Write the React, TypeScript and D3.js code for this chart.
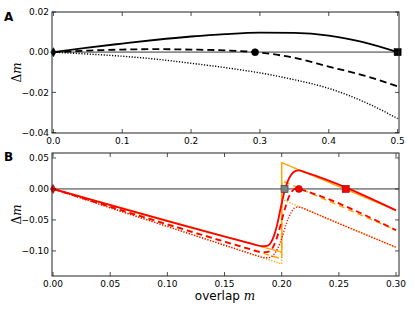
import { useEffect, useRef } from 'react';
import * as d3 from 'd3';

// panel A
const xA = [0, 0.05, 0.1, 0.15, 0.2, 0.25, 0.3, 0.35, 0.4, 0.45, 0.5];
const solidA = [0, 0.0023, 0.0043, 0.0062, 0.0078, 0.009, 0.0097, 0.0096, 0.0083, 0.005, 0];
const dashedA = [0, 0.0008, 0.0013, 0.0015, 0.0013, 0.0009, -0.0002, -0.0028, -0.0072, -0.0115, -0.017];
const dottedA = [0, -0.0009, -0.002, -0.0035, -0.0055, -0.0077, -0.0103, -0.0137, -0.018, -0.0245, -0.033];
const fixedA = [0, 0.293, 0.5];

// panel B
const redSolidX = [0, 0.17, 0.178, 0.183, 0.187, 0.19, 0.193, 0.196, 0.199, 0.202, 0.205, 0.208, 0.211, 0.215, 0.22, 0.3];
const redSolidY = [0, -0.0867, -0.0905, -0.0925, -0.092, -0.088, -0.077, -0.058, -0.032, -0.007, 0.011, 0.022, 0.028, 0.03, 0.0272, -0.0345];
const redDashedX = [0, 0.17, 0.178, 0.184, 0.188, 0.191, 0.194, 0.197, 0.2, 0.203, 0.206, 0.209, 0.212, 0.215, 0.22, 0.3];
const redDashedY = [0, -0.096, -0.1003, -0.1022, -0.1015, -0.098, -0.088, -0.072, -0.051, -0.031, -0.014, -0.004, 0.0005, 0, -0.0028, -0.0666];
const redDottedX = [0, 0.17, 0.178, 0.184, 0.188, 0.192, 0.196, 0.2, 0.204, 0.208, 0.211, 0.214, 0.218, 0.222, 0.3];
const redDottedY = [0, -0.1029, -0.1077, -0.1105, -0.111, -0.108, -0.098, -0.08, -0.056, -0.039, -0.031, -0.0293, -0.0305, -0.0337, -0.0941];
const orangeX = [0, 0.2, 0.2, 0.3];
const orangeSolidY = [0, -0.102, 0.0424, -0.0346];
const orangeDashedY = [0, -0.113, 0.0134, -0.0666];
const orangeDottedY = [0, -0.121, -0.0167, -0.0941];
const fixedB = [0, 0.2025, 0.215, 0.256];

const ticksAx = [0, 0.1, 0.2, 0.3, 0.4, 0.5];
const ticksAy = [-0.04, -0.02, 0, 0.02];
const ticksBx = [0, 0.05, 0.1, 0.15, 0.2, 0.25, 0.3];
const ticksBy = [-0.1, -0.05, 0, 0.05];

const W = 415;
const H = 312;
const FONT = 'DejaVu Sans';
const left = 52;
const right = 399;

type Sel = d3.Selection<SVGGElement, unknown, null, undefined>;

function frame(g: Sel, x: d3.ScaleLinear<number, number>, y: d3.ScaleLinear<number, number>, tx: number[], ty: number[], dx: number) {
  const [x0, x1] = x.range();
  const [y0, y1] = y.range(); // y0 bottom
  const fmt = (v: number, d: number) => v.toFixed(d).replace('-', '\u2212');
  const tk = g.append('g').attr('stroke', '#222').attr('stroke-width', 0.8);
  tx.forEach((v) => {
    tk.append('line').attr('x1', x(v)).attr('x2', x(v)).attr('y1', y0).attr('y2', y0 - 4);
    tk.append('line').attr('x1', x(v)).attr('x2', x(v)).attr('y1', y1).attr('y2', y1 + 4);
    g.append('text').attr('x', x(v)).attr('y', y0 + 10.5).attr('text-anchor', 'middle')
      .style('font-family', FONT).style('font-size', '9px').text(fmt(v, dx));
  });
  ty.forEach((v) => {
    tk.append('line').attr('x1', x0).attr('x2', x0 + 4).attr('y1', y(v)).attr('y2', y(v));
    tk.append('line').attr('x1', x1).attr('x2', x1 - 4).attr('y1', y(v)).attr('y2', y(v));
    g.append('text').attr('x', x0 - 3).attr('y', y(v) + 3.2).attr('text-anchor', 'end')
      .style('font-family', FONT).style('font-size', '9px').text(fmt(v, 2));
  });
  g.append('rect').attr('x', x0).attr('y', y1).attr('width', x1 - x0).attr('height', y0 - y1)
    .attr('fill', 'none').attr('stroke', '#222').attr('stroke-width', 1);
  // y label
  const yl = g.append('text').attr('transform', `translate(21,${(y0 + y1) / 2}) rotate(-90)`)
    .attr('text-anchor', 'middle').style('font-size', '12px');
  yl.append('tspan').style('font-family', 'DejaVu Serif').text('\u0394');
  yl.append('tspan').style('font-family', 'DejaVu Serif').style('font-style', 'italic').text('m');
}

function line(g: Sel, x: d3.ScaleLinear<number, number>, y: d3.ScaleLinear<number, number>, xs: number[], ys: number[], color: string, dash: string | null, w: number, curve: d3.CurveFactory) {
  const gen = d3.line<number>().x((_d, i) => x(xs[i])).y((d) => y(d)).curve(curve);
  const p = g.append('path').attr('d', gen(ys)).attr('fill', 'none').attr('stroke', color)
    .attr('stroke-width', w).attr('stroke-linejoin', 'round');
  if (dash) p.attr('stroke-dasharray', dash);
}

function marker(g: Sel, cx: number, cy: number, shape: string, fill: string, edge: string) {
  if (shape === 'circle') {
    g.append('circle').attr('cx', cx).attr('cy', cy).attr('r', 3.5).attr('fill', fill).attr('stroke', edge).attr('stroke-width', 0.6);
  } else if (shape === 'square') {
    g.append('rect').attr('x', cx - 3.5).attr('y', cy - 3.5).attr('width', 7).attr('height', 7).attr('fill', fill).attr('stroke', edge).attr('stroke-width', 0.6);
  } else {
    g.append('path').attr('d', `M${cx},${cy - 4.5}L${cx + 2.6},${cy}L${cx},${cy + 4.5}L${cx - 2.6},${cy}Z`)
      .attr('fill', fill).attr('stroke', edge).attr('stroke-width', 0.6);
  }
}

export default function App() {
  const ref = useRef<SVGSVGElement | null>(null);

  useEffect(() => {
    const svg = d3.select(ref.current);
    svg.selectAll('*').remove();
    const root = svg.append('g') as unknown as Sel;

    // ---- panel A
    const xa = d3.scaleLinear().domain([-0.002, 0.502]).range([left, right]);
    const ya = d3.scaleLinear().domain([-0.0402, 0.02]).range([133, 12]);
    const ga = root.append('g');
    ga.append('line').attr('x1', left).attr('x2', right).attr('y1', ya(0)).attr('y2', ya(0))
      .attr('stroke', '#8c8c8c').attr('stroke-width', 1.8);
    line(ga, xa, ya, xA, dottedA, '#000', '1.2,1.6', 1.4, d3.curveMonotoneX);
    line(ga, xa, ya, xA, dashedA, '#000', '7,4', 1.8, d3.curveMonotoneX);
    line(ga, xa, ya, xA, solidA, '#000', null, 1.8, d3.curveMonotoneX);
    marker(ga, xa(fixedA[0]), ya(0), 'diamond', '#000', '#000');
    marker(ga, xa(fixedA[1]), ya(0), 'circle', '#000', '#000');
    marker(ga, xa(fixedA[2]), ya(0), 'square', '#000', '#000');
    frame(ga, xa, ya, ticksAx, ticksAy, 1);

    // ---- panel B
    const xb = d3.scaleLinear().domain([-0.0009, 0.3026]).range([left, right]);
    const yb = d3.scaleLinear().domain([-0.1405, 0.058]).range([276, 153]);
    const gb = root.append('g');
    gb.append('line').attr('x1', left).attr('x2', right).attr('y1', yb(0)).attr('y2', yb(0))
      .attr('stroke', '#8c8c8c').attr('stroke-width', 1.8);
    line(gb, xb, yb, orangeX, orangeDottedY, '#ffa500', '1.2,1.6', 1.4, d3.curveLinear);
    line(gb, xb, yb, orangeX, orangeDashedY, '#ffa500', '6,4', 1.5, d3.curveLinear);
    line(gb, xb, yb, orangeX, orangeSolidY, '#ffa500', null, 1.5, d3.curveLinear);
    line(gb, xb, yb, redDottedX, redDottedY, '#ff0000', '1.2,1.6', 1.4, d3.curveMonotoneX);
    line(gb, xb, yb, redDashedX, redDashedY, '#ff0000', '6,4', 1.8, d3.curveMonotoneX);
    line(gb, xb, yb, redSolidX, redSolidY, '#ff0000', null, 1.8, d3.curveMonotoneX);
    marker(gb, xb(fixedB[0]), yb(0), 'diamond', '#ff0000', '#8b0000');
    marker(gb, xb(fixedB[1]), yb(0), 'square', '#808080', '#333');
    marker(gb, xb(fixedB[2]), yb(0), 'circle', '#ff0000', '#8b0000');
    marker(gb, xb(fixedB[3]), yb(0), 'square', '#ff0000', '#8b0000');
    frame(gb, xb, yb, ticksBx, ticksBy, 2);

    // panel letters and x label
    root.append('text').attr('x', 4).attr('y', 21).style('font-family', FONT)
      .style('font-weight', 'bold').style('font-size', '12px').text('A');
    root.append('text').attr('x', 4).attr('y', 161).style('font-family', FONT)
      .style('font-weight', 'bold').style('font-size', '12px').text('B');
    const xl = root.append('text').attr('x', 225).attr('y', 300).attr('text-anchor', 'middle')
      .style('font-size', '12px');
    xl.append('tspan').style('font-family', FONT).text('overlap ');
    xl.append('tspan').style('font-family', 'DejaVu Serif').style('font-style', 'italic').text('m');
  }, []);

  return (
    <svg
      ref={ref}
      width={W}
      height={H}
      style={{ position: 'absolute', left: 0, top: 0, background: '#fff' }}
    />
  );
}
